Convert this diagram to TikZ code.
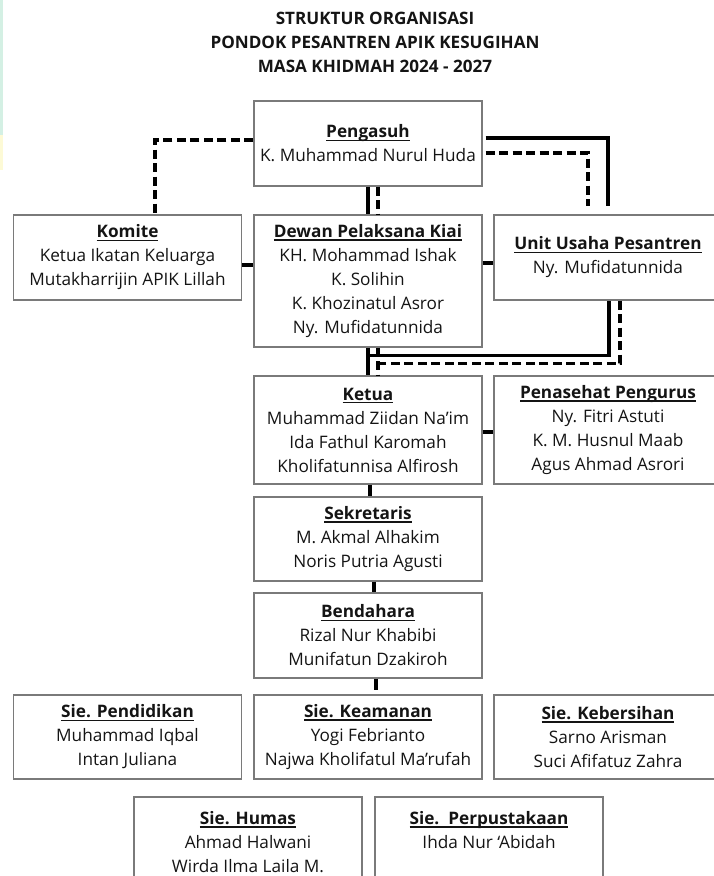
\documentclass[tikz,border=0pt]{standalone}
\usepackage{fontspec}
\setmainfont{Open Sans}
\usepackage{xcolor}
\usetikzlibrary{positioning,calc}

\definecolor{hijaumuda}{HTML}{D4F0E4}
\definecolor{kuningmuda}{HTML}{FDFAD6}
\definecolor{abubingkai}{HTML}{7A7A7A}

\newcommand{\jabatan}[1]{\setbox0\hbox{\bfseries #1}\rlap{\rule[-3.2pt]{\wd0}{1.4pt}}\box0}

\tikzset{
    kotak/.style={draw=abubingkai, line width=1.1pt, minimum width=228pt, align=center,
        inner sep=0pt, text=black!92, font=\fontsize{17.2}{24}\selectfont},
    garis/.style={line width=3.2pt},
    putus/.style={line width=3.2pt, dash pattern=on 9pt off 4.5pt},
}

\begin{document}
\begin{tikzpicture}[x=1pt, y=-1pt]
    \useasboundingbox (0,0) rectangle (713,876);
    \fill[hijaumuda] (0,0) rectangle (2.5,135);
    \fill[kuningmuda] (0,135) rectangle (2.5,170);

    \node[font=\bfseries\fontsize{17.1}{24}\selectfont, align=center, text=black!92] (judul) at (375,42)
        {STRUKTUR ORGANISASI\\PONDOK PESANTREN APIK KESUGIHAN\\MASA KHIDMAH 2024 - 2027};

    \node[kotak, minimum height=85pt] (pengasuh) at (368,143.5) {\jabatan{Pengasuh}\\K. Muhammad Nurul Huda};
    \node[kotak, minimum height=85pt] (komite) at (127.5,257.5) {\jabatan{Komite}\\Ketua Ikatan Keluarga\\Mutakharrijin APIK Lillah};
    \node[kotak, minimum height=132pt] (dewan) at (368,281) {\jabatan{Dewan Pelaksana Kiai}\\KH. Mohammad Ishak\\K. Solihin\\K. Khozinatul Asror\\Ny. Mufidatunnida};
    \node[kotak, minimum height=85pt] (unit) at (608,257.5) {\jabatan{Unit Usaha Pesantren}\\Ny. Mufidatunnida};
    \node[kotak, minimum height=108pt] (ketua) at (368,430) {\jabatan{Ketua}\\Muhammad Ziidan Na’im\\Ida Fathul Karomah\\Kholifatunnisa Alfirosh};
    \node[kotak, minimum height=108pt] (penasehat) at (608,430) {\jabatan{Penasehat Pengurus}\\Ny. Fitri Astuti\\K. M. Husnul Maab\\Agus Ahmad Asrori};
    \node[kotak, minimum height=84pt] (sekretaris) at (368,539) {\jabatan{Sekretaris}\\M. Akmal Alhakim\\Noris Putria Agusti};
    \node[kotak, minimum height=85pt] (bendahara) at (368,635.5) {\jabatan{Bendahara}\\Rizal Nur Khabibi\\Munifatun Dzakiroh};
    \node[kotak, minimum height=84pt] (pendidikan) at (127.5,737) {\jabatan{Sie. Pendidikan}\\Muhammad Iqbal\\Intan Juliana};
    \node[kotak, minimum height=84pt] (keamanan) at (368,737) {\jabatan{Sie. Keamanan}\\Yogi Febrianto\\Najwa Kholifatul Ma’rufah};
    \node[kotak, minimum height=84pt] (kebersihan) at (608,737) {\jabatan{Sie. Kebersihan}\\Sarno Arisman\\Suci Afifatuz Zahra};
    \node[kotak, minimum height=90pt] (humas) at (248,842) {\jabatan{Sie. Humas}\\Ahmad Halwani\\Wirda Ilma Laila M.};
    \node[kotak, minimum height=90pt] (perpus) at (489,842) {\jabatan{Sie.\ \ Perpustakaan}\\Ihda Nur ‘Abidah\\\mbox{}};

    \draw[putus] ([yshift=3.5pt]pengasuh.west) -| ([xshift=27.5pt]komite.north);
    \draw[garis, shorten <=3pt, shorten >=8pt] ([yshift=5.5pt]pengasuh.east) -| ([xshift=0pt]unit.north);
    \draw[putus, shorten <=3pt, shorten >=8pt] ([yshift=-9.5pt]pengasuh.east) -| ([xshift=-20pt]unit.north);

    \draw[garis] (pengasuh.south) -- (dewan.north);
    \draw[putus] ([xshift=10pt]pengasuh.south) -- ([xshift=10pt]dewan.north);
    \draw[garis] (dewan.south) -- (ketua.north);
    \draw[putus] ([xshift=10pt]dewan.south) -- ([xshift=10pt]ketua.north);

    \draw[garis] ([xshift=1pt]unit.south) |- ([yshift=-8pt]dewan.south);
    \draw[putus] ([xshift=12pt]unit.south) |- ([xshift=10pt,yshift=-16pt]dewan.south);

    \draw[garis] ([yshift=-7.5pt]komite.east) -- ([yshift=-7.5pt]komite.east -| dewan.west);
    \draw[garis] ([yshift=-5.5pt]unit.west -| dewan.east) -- ([yshift=-5.5pt]unit.west);
    \draw[garis] ([yshift=-2pt]ketua.east) -- ([yshift=-2pt]ketua.east -| penasehat.west);

    \draw[garis] ([xshift=2pt]ketua.south) -- ([xshift=2pt]sekretaris.north);
    \draw[garis] ([xshift=6pt]sekretaris.south) -- ([xshift=6pt]bendahara.north);
    \draw[garis, shorten >=4pt] ([xshift=8pt]bendahara.south) -- ([xshift=8pt]keamanan.north);
\end{tikzpicture}
\end{document}
